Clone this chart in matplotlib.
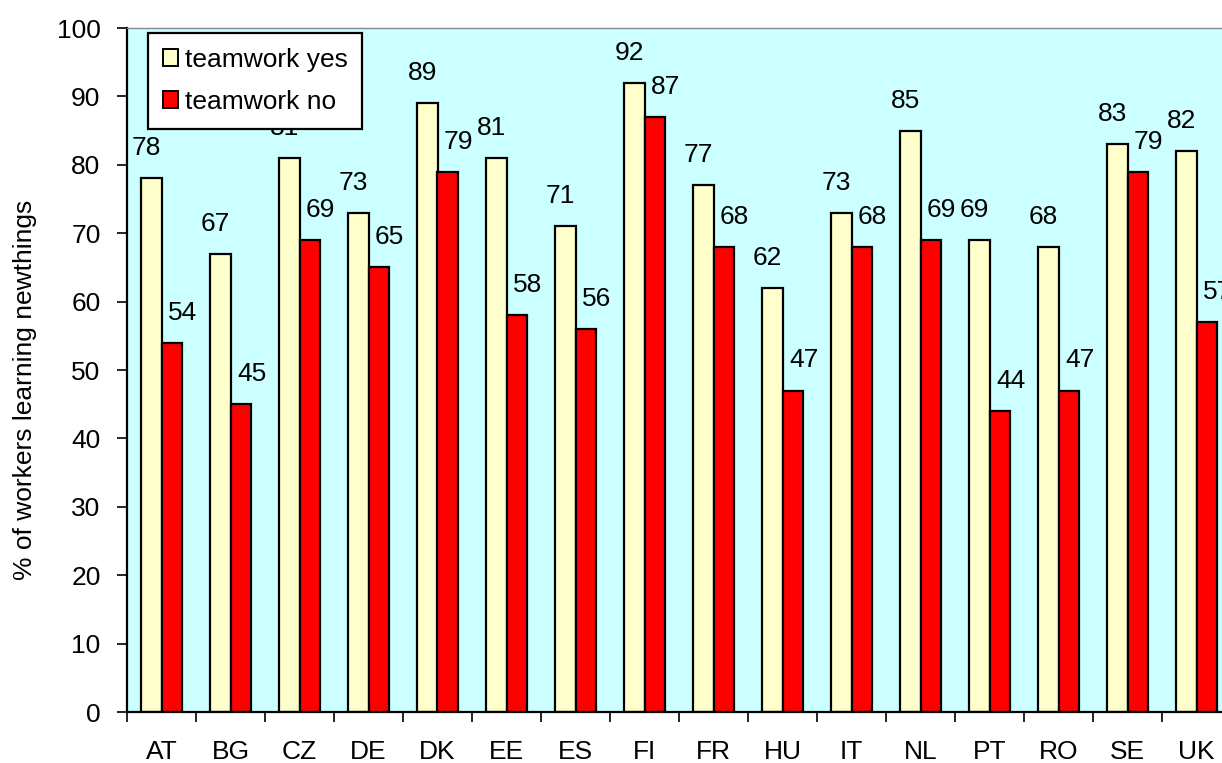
import numpy as np
import matplotlib
matplotlib.use('Agg')
import matplotlib.pyplot as plt
from matplotlib.patches import Patch

plt.rcParams['font.family'] = ['Liberation Sans', 'DejaVu Sans']

# data
countries = ['AT', 'BG', 'CZ', 'DE', 'DK', 'EE', 'ES', 'FI',
             'FR', 'HU', 'IT', 'NL', 'PT', 'RO', 'SE', 'UK']
teamwork_yes = [78, 67, 81, 73, 89, 81, 71, 92, 77, 62, 73, 85, 69, 68, 83, 82]
teamwork_no = [54, 45, 69, 65, 79, 58, 56, 87, 68, 47, 68, 69, 44, 47, 79, 57]
yticks = list(range(0, 101, 10))

FS = 19

fig = plt.figure(figsize=(12.22, 7.63), dpi=100)
ax = fig.add_axes([127 / 1222, 1 - 712 / 763, 1104 / 1222, 684 / 763])
ax.set_facecolor('#CCFFFF')

x = np.arange(len(countries))
w = 0.29
ax.bar(x - w / 2, teamwork_yes, w, color='#FFFFCC', edgecolor='black', linewidth=1.6)
ax.bar(x + w / 2, teamwork_no, w, color='#FF0000', edgecolor='black', linewidth=1.6)

# value labels
for xi, v in zip(x, teamwork_yes):
    ax.annotate(str(v), (xi - w / 2, v), xytext=(-3.5, 13), textcoords='offset points',
                ha='center', va='bottom', fontsize=FS, annotation_clip=False)
for xi, v in zip(x, teamwork_no):
    ax.annotate(str(v), (xi + w / 2, v), xytext=(8, 13), textcoords='offset points',
                ha='center', va='bottom', fontsize=FS, annotation_clip=False)

ax.set_xlim(-0.5, len(countries) - 0.5)
ax.set_ylim(0, 100)
ax.set_yticks(yticks)
ax.tick_params(axis='y', length=7, width=1.2, pad=12, labelsize=FS)

# ticks between groups, labels at centres
ax.set_xticks(np.arange(-0.5, len(countries) - 0.5, 1))
ax.set_xticklabels([])
ax.set_xticks(x, minor=True)
ax.set_xticklabels(countries, minor=True)
ax.tick_params(axis='x', which='major', length=7, width=1.2)
ax.tick_params(axis='x', which='minor', length=0, pad=20, labelsize=FS)

ax.spines['left'].set_linewidth(1.6)
ax.spines['bottom'].set_linewidth(1.6)
ax.spines['top'].set_color('#888888')
ax.spines['top'].set_linewidth(1.0)
ax.spines['right'].set_visible(False)

fig.text(25 / 1222, 1 - 390 / 763, '% of workers learning newthings', rotation=90,
         ha='center', va='center', fontsize=FS)

handles = [Patch(facecolor='#FFFFCC', edgecolor='black', linewidth=1.4),
           Patch(facecolor='#FF0000', edgecolor='black', linewidth=1.4)]
leg = ax.legend(handles, ['teamwork yes', 'teamwork no'], loc='upper left',
                bbox_to_anchor=((148 - 127) / 1104, 1 - 5 / 684), fontsize=FS,
                frameon=True, fancybox=False, framealpha=1, edgecolor='black',
                handlelength=0.6, handleheight=0.6, handletextpad=0.25,
                labelspacing=0.7, borderpad=0.55, borderaxespad=0)
leg.get_frame().set_linewidth(1.6)

fig.savefig('out.png', dpi=100)
